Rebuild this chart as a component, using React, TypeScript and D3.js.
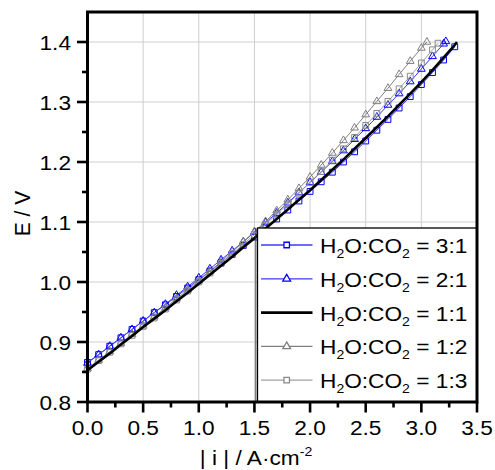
import React from "react";
import * as d3 from "d3";

const currents = [0.0,0.1,0.2,0.3,0.4,0.5,0.6,0.7,0.8,0.9,1.0,1.1,1.2,1.3,1.4,1.5,1.6,1.7,1.8,1.9,2.0,2.1,2.2,2.3,2.4,2.5,2.6,2.7,2.8,2.9,3.0,3.1,3.2,3.3];

const e31 = [0.866,0.879,0.893,0.907,0.921,0.935,0.949,0.962,0.976,0.990,1.004,1.018,1.032,1.046,1.061,1.075,1.090,1.105,1.120,1.135,1.151,1.167,1.183,1.200,1.217,1.235,1.253,1.271,1.290,1.309,1.329,1.349,1.370,1.392];
const e21 = [0.865,0.879,0.893,0.907,0.921,0.935,0.949,0.963,0.978,0.992,1.007,1.022,1.037,1.052,1.067,1.083,1.099,1.115,1.132,1.149,1.166,1.183,1.201,1.219,1.238,1.256,1.275,1.295,1.314,1.334,1.355,1.376,1.397];
const e21End = [3.22, 1.401];
const e11 = [0.853,0.867,0.881,0.896,0.910,0.925,0.939,0.953,0.968,0.982,0.997,1.012,1.027,1.042,1.058,1.073,1.089,1.105,1.121,1.137,1.153,1.170,1.187,1.204,1.222,1.240,1.258,1.276,1.295,1.314,1.333,1.353,1.374,1.395];
const e11End = [3.32, 1.4];
const e12 = [0.856,0.870,0.884,0.898,0.913,0.927,0.942,0.957,0.972,0.987,1.002,1.018,1.034,1.050,1.067,1.084,1.101,1.119,1.137,1.156,1.175,1.195,1.215,1.236,1.257,1.279,1.301,1.323,1.346,1.368,1.390];
const e12End = [3.05, 1.4];
const e13 = [0.855,0.869,0.883,0.897,0.911,0.926,0.940,0.955,0.970,0.985,1.000,1.015,1.031,1.047,1.063,1.079,1.096,1.113,1.130,1.148,1.166,1.184,1.203,1.222,1.241,1.261,1.281,1.301,1.322,1.343,1.365,1.387];
const e13End = [3.15, 1.398];

const xTicks = [0.0,0.5,1.0,1.5,2.0,2.5,3.0,3.5];
const xTickLabels = ["0.0","0.5","1.0","1.5","2.0","2.5","3.0","3.5"];
const xMinor = [0.25,0.75,1.25,1.75,2.25,2.75,3.25];
const yTicks = [0.8,0.9,1.0,1.1,1.2,1.3,1.4];
const yTickLabels = ["0.8","0.9","1.0","1.1","1.2","1.3","1.4"];
const yMinor = [0.85,0.95,1.05,1.15,1.25,1.35];
const ratios = ["3:1","2:1","1:1","1:2","1:3"];

type Pt = [number, number];
function build(vals: number[], end?: number[]): Pt[] {
  const pts: Pt[] = vals.map((v, i) => [currents[i], v]);
  if (end) pts.push([end[0], end[1]]);
  return pts;
}

const series = [
  { name: ratios[0], data: build(e31), line: "#3a3aff", mark: "#0000ff", sym: "square", lw: 1 },
  { name: ratios[1], data: build(e21, e21End), line: "#3a3aff", mark: "#0000ff", sym: "triangle", lw: 1 },
  { name: ratios[3], data: build(e12, e12End), line: "#808080", mark: "#808080", sym: "triangle", lw: 1 },
  { name: ratios[4], data: build(e13, e13End), line: "#a0a0a0", mark: "#8a8a8a", sym: "square", lw: 1 },
  { name: ratios[2], data: build(e11, e11End), line: "#000000", mark: "", sym: "none", lw: 2.6 },
];
const legendOrder = [0, 1, 4, 2, 3];

const FONT = "Arial, 'Liberation Sans', Helvetica, sans-serif";
const SX = 1.08;

export default function App() {
  const x = d3.scaleLinear().domain([0, 3.5]).range([87.5, 477]);
  const y = d3.scaleLinear().domain([0.8, 1.45]).range([402, 12]);
  const line = d3.line<Pt>().x(d => x(d[0])).y(d => y(d[1]));
  const sq = d3.symbol(d3.symbolSquare, 34)();
  const tri = d3.symbol(d3.symbolTriangle, 26)();
  const sqL = d3.symbol(d3.symbolSquare, 30)();
  const triL = d3.symbol(d3.symbolTriangle, 26)();

  const left = x.range()[0], right = x.range()[1];
  const bottom = y.range()[0], top = y.range()[1];

  const legX = 257.5, legY = 228;
  const rowY = (i: number) => 245 + i * 33.8;

  return (
    <svg width={495} height={470} style={{ position: "absolute", left: 0, top: 0, background: "#fff" }} fontFamily={FONT}>
      <rect x={0} y={0} width={495} height={470} fill="#fff" />
      {/* grid */}
      {xTicks.filter(t => t > 0 && t < 3.5).map(t => (
        <line key={"gx" + t} x1={x(t)} x2={x(t)} y1={top} y2={bottom} stroke="#cfcfcf" strokeWidth={1} />
      ))}
      {yTicks.filter(t => t > 0.8).map(t => (
        <line key={"gy" + t} x1={left} x2={right} y1={y(t)} y2={y(t)} stroke="#cfcfcf" strokeWidth={1} />
      ))}
      {/* series */}
      {series.map(s => (
        <g key={s.name}>
          <path d={line(s.data) || ""} fill="none" stroke={s.line} strokeWidth={s.lw} />
          {s.sym !== "none" && s.data.map((d, i) => (
            <path key={i} d={s.sym === "square" ? sq : tri} transform={`translate(${x(d[0])},${y(d[1])})`} fill="none" stroke={s.mark} strokeWidth={1} />
          ))}
        </g>
      ))}
      {/* legend */}
      <rect x={legX} y={legY} width={right - legX} height={bottom - legY} fill="#fff" stroke="#000" strokeWidth={1.3} />
      <line x1={255.8} x2={255.8} y1={legY} y2={bottom} stroke="#333" strokeWidth={0.9} />
      {legendOrder.map((si, i) => {
        const s = series[si];
        const yy = rowY(i);
        return (
          <g key={"leg" + i}>
            <line x1={261} x2={312.5} y1={yy} y2={yy} stroke={s.line} strokeWidth={s.lw === 1 ? 1.3 : 2.6} />
            {s.sym !== "none" && (
              <path d={s.sym === "square" ? sqL : triL} transform={`translate(286.7,${yy})`} fill="#fff" stroke={s.mark} strokeWidth={1.3} />
            )}
            <text transform={`translate(320,${yy + 8}) scale(${SX},1)`} fontSize={21} fill="#000">
              H<tspan fontSize={13} dy={5}>2</tspan><tspan dy={-5}>O:CO</tspan><tspan fontSize={13} dy={5}>2</tspan><tspan dy={-5}>{" = " + s.name}</tspan>
            </text>
          </g>
        );
      })}
      {/* frame */}
      <rect x={left} y={top} width={right - left} height={bottom - top} fill="none" stroke="#000" strokeWidth={3} />
      {/* x ticks */}
      {xTicks.map(t => (
        <line key={"xt" + t} x1={x(t)} x2={x(t)} y1={bottom} y2={bottom + 10.5} stroke="#000" strokeWidth={2.6} />
      ))}
      {xMinor.map(t => (
        <line key={"xm" + t} x1={x(t)} x2={x(t)} y1={bottom} y2={bottom + 5.5} stroke="#000" strokeWidth={2.6} />
      ))}
      {xTicks.map((t, i) => (
        <text key={"xl" + t} transform={`translate(${x(t)},435) scale(${SX},1)`} textAnchor="middle" fontSize={21} fill="#000">{xTickLabels[i]}</text>
      ))}
      {/* y ticks */}
      {yTicks.map(t => (
        <line key={"yt" + t} x1={left - 10.5} x2={left} y1={y(t)} y2={y(t)} stroke="#000" strokeWidth={2.6} />
      ))}
      {yMinor.map(t => (
        <line key={"ym" + t} x1={left - 5.5} x2={left} y1={y(t)} y2={y(t)} stroke="#000" strokeWidth={2.6} />
      ))}
      {yTicks.map((t, i) => (
        <text key={"yl" + t} transform={`translate(71,${y(t) + 7.5}) scale(${SX},1)`} textAnchor="end" fontSize={21} fill="#000">{yTickLabels[i]}</text>
      ))}
      {/* axis titles */}
      <text transform={`translate(30,213.5) scale(${SX},1) rotate(-90)`} textAnchor="middle" fontSize={21} fill="#000">E / V</text>
      <text transform={`translate(256,465) scale(${SX},1)`} textAnchor="middle" fontSize={21} fill="#000">
        | i | / A·cm<tspan fontSize={13} dy={-9}>-2</tspan>
      </text>
    </svg>
  );
}
